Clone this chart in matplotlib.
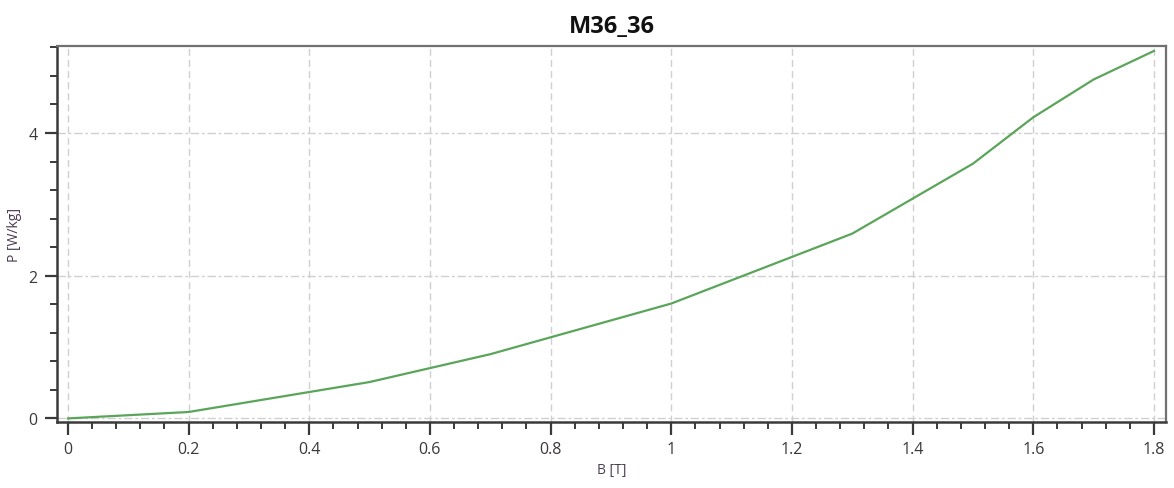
import matplotlib
matplotlib.use("Agg")
import matplotlib.pyplot as plt
from matplotlib.ticker import MultipleLocator, FuncFormatter

plt.rcParams['font.family'] = ['Open Sans', 'DejaVu Sans']

title = "M36_36"
x_label = "B [T]"
y_label = "P [W/kg]"
B = [0.0, 0.2, 0.5, 0.7, 1.0, 1.3, 1.5, 1.6, 1.7, 1.8]
P = [0.0, 0.09, 0.51, 0.90, 1.61, 2.59, 3.57, 4.22, 4.75, 5.15]

fig = plt.figure(figsize=(11.74, 4.89), dpi=100)
ax = fig.add_axes([0.0486, 0.135, 0.9446, 0.769])

ax.plot(B, P, color='#5aa55a', linewidth=1.6, zorder=3)

ax.set_xlim(-0.018, 1.82)
ax.set_ylim(-0.05, 5.22)

ax.xaxis.set_major_locator(MultipleLocator(0.2))
ax.xaxis.set_minor_locator(MultipleLocator(0.04))
ax.yaxis.set_major_locator(MultipleLocator(2))
ax.yaxis.set_minor_locator(MultipleLocator(0.4))

def fmt(v, pos):
    s = f"{v:.1f}".rstrip('0').rstrip('.')
    return s
ax.xaxis.set_major_formatter(FuncFormatter(fmt))
ax.yaxis.set_major_formatter(FuncFormatter(fmt))

ax.grid(True, which='major', axis='x', color='#d0d0d0', linestyle=(0, (5, 3)), linewidth=1)
ax.grid(True, which='major', axis='y', color='#d0d0d0', linestyle=(0, (6, 2, 2, 2)), linewidth=1)
ax.set_axisbelow(True)

for side in ['left', 'bottom']:
    ax.spines[side].set_color('#3a3a3a')
    ax.spines[side].set_linewidth(1.8)
for side in ['top', 'right']:
    ax.spines[side].set_color('#707070')
    ax.spines[side].set_linewidth(1.6)

ax.tick_params(which='major', length=9, width=1.6, color='#3a3a3a',
               labelsize=11.5, labelcolor='#3c3838', pad=5)
ax.tick_params(which='minor', length=5, width=1.4, color='#3a3a3a')

ax.set_title(title, fontsize=17, fontweight='bold', color='#111111', pad=10)
ax.set_xlabel(x_label, fontsize=10, color='#4a4050', labelpad=3)
ax.set_ylabel(y_label, fontsize=10, color='#4a3a50', labelpad=5)

fig.savefig("out.png", dpi=100)
